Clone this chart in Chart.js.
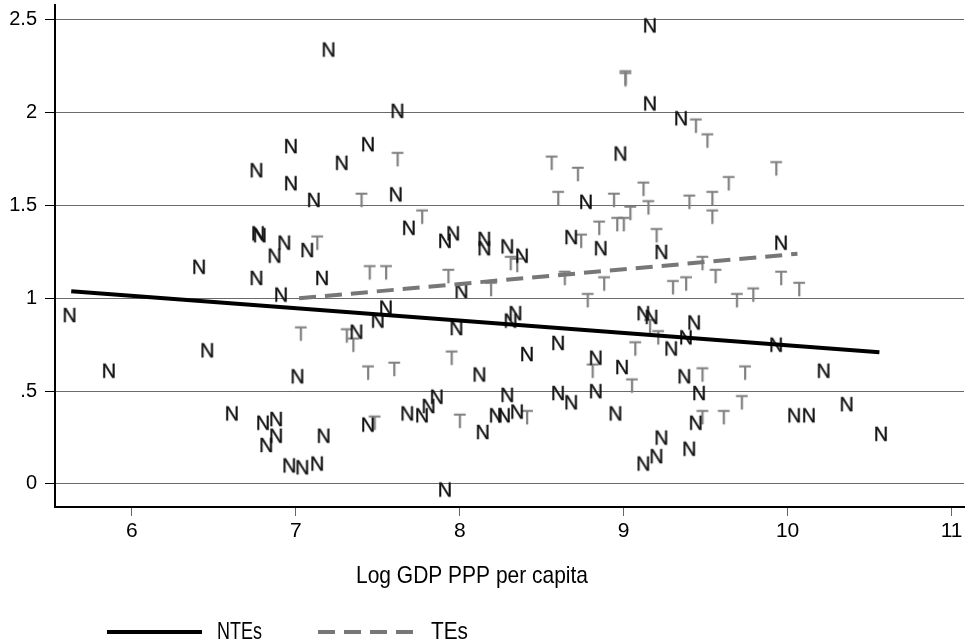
<!DOCTYPE html>
<html lang="en">
<head>
<meta charset="UTF-8">
<title>Log GDP PPP per capita</title>
<script src="https://cdn.jsdelivr.net/npm/chart.js"></script>
<style>
    body { margin: 0; padding: 0; background: #fff; }
    #wrap { width: 969px; height: 644px; }
</style>
</head>
<body>
<div id="wrap"><canvas id="chart" width="969" height="644"></canvas></div>
<script>
// NTEs (label "N")
var nteX = [7.20, 9.16, 9.16, 7.62, 7.44, 7.28, 6.97, 6.76, 6.97, 7.11, 8.98, 9.35, 7.61, 8.77, 6.77, 6.78,
    6.93, 6.87, 7.07, 7.69, 7.91, 7.96, 8.15, 8.15, 8.29, 8.38, 8.68, 8.86, 9.23, 9.96, 6.41, 6.76, 7.16,
    5.62, 6.91, 8.01, 7.55, 7.50, 7.37, 7.98, 8.34, 8.31, 9.12, 9.17, 9.43, 9.38, 9.29, 9.93, 6.46, 5.86,
    7.01, 8.41, 8.60, 8.83, 8.99, 9.37, 8.12, 10.22, 9.46, 8.29, 8.60, 8.68, 8.83, 6.61, 6.80, 6.88, 6.88,
    6.82, 6.96, 7.04, 7.13, 7.17, 7.44, 7.68, 7.77, 7.81, 7.86, 8.14, 8.22, 8.27, 8.35, 8.95, 7.91, 9.12,
    9.20, 9.23, 9.40, 9.44, 10.04, 10.13, 10.36, 10.57];
var nteY = [2.34, 2.47, 2.05, 2.01, 1.83, 1.73, 1.82, 1.69, 1.62, 1.53, 1.78, 1.97, 1.56, 1.52, 1.35, 1.34,
    1.30, 1.23, 1.26, 1.38, 1.31, 1.35, 1.32, 1.27, 1.28, 1.23, 1.33, 1.27, 1.25, 1.30, 1.17, 1.11, 1.11,
    0.91, 1.02, 1.04, 0.95, 0.88, 0.82, 0.84, 0.92, 0.88, 0.92, 0.90, 0.87, 0.79, 0.73, 0.75, 0.72, 0.61,
    0.58, 0.70, 0.76, 0.68, 0.63, 0.58, 0.59, 0.61, 0.49, 0.48, 0.49, 0.44, 0.50, 0.38, 0.33, 0.35, 0.26,
    0.21, 0.10, 0.09, 0.11, 0.26, 0.32, 0.38, 0.37, 0.42, 0.47, 0.28, 0.37, 0.37, 0.39, 0.38, -0.03, 0.11,
    0.15, 0.25, 0.19, 0.33, 0.37, 0.37, 0.43, 0.27];

// TEs (label "T")
var teX = [9.01, 9.01, 7.62, 8.56, 8.72, 7.40, 8.60, 8.94, 9.12, 9.15, 9.04, 8.96, 9.00, 8.85, 8.74, 9.20,
    9.44, 9.51, 9.93, 9.64, 9.40, 9.54, 9.54, 7.13, 7.77, 8.31, 8.35, 7.45, 7.55, 7.93, 8.19, 8.64, 8.88,
    8.78, 9.48, 9.56, 9.30, 9.38, 9.69, 9.79, 9.96, 10.07, 7.03, 7.31, 7.35, 7.95, 7.44, 7.60, 8.81, 9.07,
    9.05, 9.16, 9.21, 9.48, 9.74, 9.72, 9.48, 9.61, 7.48, 8.00, 8.41];
var teY = [2.18, 2.19, 1.75, 1.73, 1.67, 1.53, 1.54, 1.53, 1.59, 1.49, 1.46, 1.40, 1.40, 1.38, 1.31, 1.34,
    1.93, 1.85, 1.70, 1.62, 1.52, 1.54, 1.44, 1.30, 1.44, 1.19, 1.18, 1.14, 1.14, 1.12, 1.05, 1.11, 1.08,
    0.99, 1.19, 1.12, 1.06, 1.08, 0.99, 1.02, 1.11, 1.05, 0.81, 0.80, 0.75, 0.68, 0.60, 0.62, 0.61, 0.73,
    0.53, 0.85, 0.79, 0.59, 0.60, 0.44, 0.36, 0.36, 0.33, 0.34, 0.36];

// fitted lines
var nteFitX = [5.63, 10.56];
var nteFitY = [1.038, 0.71];
var teFitX = [7.02, 10.06];
var teFitY = [1.00, 1.24];

var yTickLabels = {"0": "0", "0.5": ".5", "1": "1", "1.5": "1.5", "2": "2", "2.5": "2.5"};
var xTitle = "Log GDP PPP per capita";
var legendNames = ["NTEs", "TEs"];

var sans = '"Liberation Sans", Arial, Helvetica, sans-serif';

function pairs(xs, ys) {
    var out = [];
    for (var i = 0; i < xs.length; i++) out.push({x: xs[i], y: ys[i]});
    return out;
}

function letterImage(ch, color) {
    var c = document.createElement('canvas');
    c.width = 20;
    c.height = 20;
    var g = c.getContext('2d');
    g.fillStyle = color;
    g.strokeStyle = color;
    g.lineWidth = 0.4;
    g.font = '20px ' + sans;
    g.textAlign = 'center';
    g.textBaseline = 'middle';
    g.fillText(ch, 10, 11);
    g.strokeText(ch, 10, 11);
    return c;
}

// squeezed text, to get the narrow look of the original
function narrowText(ctx, text, x, y, size, width, align) {
    ctx.save();
    ctx.font = size + 'px ' + sans;
    var w = ctx.measureText(text).width;
    var k = width / w;
    ctx.translate(x, y);
    ctx.scale(k, 1);
    ctx.textAlign = align;
    ctx.textBaseline = 'middle';
    ctx.fillText(text, 0, 0);
    ctx.restore();
}

// title under the axis and the legend at the bottom
var extras = {
    id: 'extras',
    afterDraw: function (chart) {
        var ctx = chart.ctx;
        ctx.save();
        ctx.fillStyle = '#000';
        narrowText(ctx, xTitle, 472, 576, 24, 232, 'center');

        ctx.lineWidth = 4;
        ctx.strokeStyle = '#000';
        ctx.beginPath();
        ctx.moveTo(107, 632);
        ctx.lineTo(202, 632);
        ctx.stroke();

        ctx.strokeStyle = '#777';
        ctx.setLineDash([17, 9]);
        ctx.beginPath();
        ctx.moveTo(318, 632);
        ctx.lineTo(418, 632);
        ctx.stroke();
        ctx.setLineDash([]);

        narrowText(ctx, legendNames[0], 217, 633, 23, 45, 'left');
        narrowText(ctx, legendNames[1], 431, 633, 23, 37, 'left');
        ctx.restore();
    }
};

new Chart(document.getElementById('chart'), {
    type: 'scatter',
    data: {
        datasets: [{
            type: 'line',
            label: legendNames[0],
            data: pairs(nteFitX, nteFitY),
            borderColor: '#000',
            borderWidth: 4,
            pointRadius: 0,
            fill: false
        }, {
            type: 'line',
            label: legendNames[1],
            data: pairs(teFitX, teFitY),
            borderColor: '#777',
            borderWidth: 4,
            borderDash: [17, 9],
            pointRadius: 0,
            fill: false
        }, {
            label: 'N',
            data: pairs(nteX, nteY),
            pointStyle: letterImage('N', '#111')
        }, {
            label: 'T',
            data: pairs(teX, teY),
            pointStyle: letterImage('T', '#808080')
        }]
    },
    options: {
        responsive: false,
        animation: false,
        layout: { padding: { top: 4, right: 3, left: 0, bottom: 0 } },
        plugins: {
            legend: { display: false },
            tooltip: { enabled: false }
        },
        scales: {
            x: {
                type: 'linear',
                min: 5.531,
                max: 11.076,
                afterFit: function (s) {
                    s.height = 137;
                    s.paddingLeft = 0;
                    s.paddingRight = 0;
                },
                border: { display: true, color: '#000', width: 2 },
                grid: { drawOnChartArea: false, drawTicks: true, tickLength: 9, color: '#666' },
                ticks: {
                    stepSize: 1,
                    includeBounds: false,
                    maxRotation: 0,
                    padding: 3,
                    color: '#000',
                    font: { family: sans, size: 21 }
                }
            },
            y: {
                type: 'linear',
                min: -0.124,
                max: 2.58,
                afterFit: function (s) {
                    s.width = 55;
                    s.paddingTop = 0;
                    s.paddingBottom = 0;
                },
                border: { display: true, color: '#000', width: 2 },
                grid: { color: '#6a6a6a', lineWidth: 1, tickLength: 10, tickColor: '#000' },
                ticks: {
                    stepSize: 0.5,
                    includeBounds: false,
                    padding: 8,
                    color: '#000',
                    font: { family: sans, size: 20 },
                    callback: function (v) { return yTickLabels[String(v)] || ''; }
                }
            }
        }
    },
    plugins: [extras]
});
</script>
</body>
</html>
